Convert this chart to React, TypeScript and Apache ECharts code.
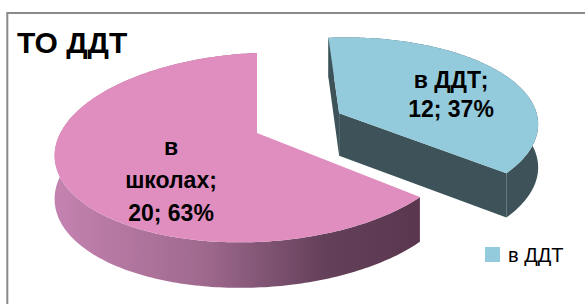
import React, { useEffect, useRef } from 'react';
import * as echarts from 'echarts';

// ---- data ----
const categories = ['в ДДТ', 'в школах'];
const values = [12, 20];
const percents = [37, 63];
const titleText = 'ТО ДДТ';

// ---- styles ----
const TOP_COLORS = ['#93cbdc', '#e08ebf'];
const SIDE_COLORS: any[] = [
  '#3d5359',
  new echarts.graphic.LinearGradient(0, 0, 1, 0, [
    { offset: 0, color: '#c482b0' },
    { offset: 0.4, color: '#a06a8f' },
    { offset: 0.74, color: '#64405a' },
    { offset: 1, color: '#5a374f' },
  ]),
];
const EXPLODE = [0.46, 0];
const WRAP = [false, true];
const LABEL_POS = [
  [451, 94.5],
  [171, 179.5],
];
const LABEL_LH = [29, 33];

// perspective projection of the unit disc
const CX = 257;
const CY = 133;
const SX = 200;
const SY = 92.3;
const K = 0.1534;
const SHEAR = 0.04;
const proj = (X: number, Z: number) => {
  const w = 1 - K * Z;
  const x = CX + (SX * X) / w;
  return [x, CY + (SY * Z) / w - SHEAR * (x - CX)];
};
const depth = (Z: number) => 43 + 2.5 * Z;

const area = (pts: number[][]) => {
  let s = 0;
  for (let i = 0; i < pts.length; i++) {
    const a = pts[i];
    const b = pts[(i + 1) % pts.length];
    s += a[0] * b[1] - b[0] * a[1];
  }
  return s;
};

function sliceRender(i: number) {
  return () => {
    const total = percents.reduce((a, b) => a + b, 0);
    let before = 0;
    for (let j = 0; j < i; j++) before += percents[j];
    const a0 = (before / total) * 360;
    const a1 = ((before + percents[i]) / total) * 360;
    const mid = (((a0 + a1) / 2) * Math.PI) / 180;
    const e = EXPLODE[i];
    const ox = e * Math.sin(mid);
    const oz = -e * Math.cos(mid);
    const top: number[][] = [];
    const bot: number[][] = [];
    const steps = Math.max(2, Math.ceil(a1 - a0));
    for (let s = 0; s <= steps; s++) {
      const t = ((a0 + ((a1 - a0) * s) / steps) * Math.PI) / 180;
      const X = Math.sin(t) + ox;
      const Z = -Math.cos(t) + oz;
      const p = proj(X, Z);
      top.push(p);
      bot.push([p[0], p[1] + depth(Z)]);
    }
    const apexT = proj(ox, oz);
    const apexB = [apexT[0], apexT[1] + depth(oz)];
    const children: any[] = [];
    const wallStart = [top[0], apexT, apexB, bot[0]];
    const wallEnd = [top[top.length - 1], apexT, apexB, bot[bot.length - 1]];
    const sideFill = SIDE_COLORS[i];
    if (area(wallStart) > 1) {
      children.push({ type: 'polygon', shape: { points: wallStart }, style: { fill: sideFill } });
    }
    if (area(wallEnd) < -1) {
      children.push({ type: 'polygon', shape: { points: wallEnd }, style: { fill: sideFill } });
    }
    const band = top.concat(bot.slice().reverse());
    children.push({ type: 'polygon', shape: { points: band }, style: { fill: sideFill } });
    children.push({
      type: 'polygon',
      shape: { points: [apexT].concat(top) },
      style: { fill: TOP_COLORS[i] },
    });
    const name = WRAP[i] ? categories[i].split(' ').join('\n') : categories[i];
    children.push({
      type: 'text',
      x: LABEL_POS[i][0],
      y: LABEL_POS[i][1],
      style: {
        text: `${name};\n${values[i]}; ${percents[i]}%`,
        fontSize: 23,
        fontWeight: 'bold',
        fontFamily: 'Liberation Sans, Arial, sans-serif',
        fill: '#000',
        align: 'center',
        verticalAlign: 'middle',
        lineHeight: LABEL_LH[i],
      },
    });
    return { type: 'group', children };
  };
}

export default function App() {
  const ref = useRef<HTMLDivElement>(null);
  useEffect(() => {
    document.body.style.margin = '0';
    if (!ref.current) return;
    const chart = echarts.init(ref.current, null, { renderer: 'svg' });
    chart.setOption({
      animation: false,
      title: {
        text: titleText,
        left: 17,
        top: 27,
        padding: 0,
        textStyle: {
          fontSize: 30,
          lineHeight: 30,
          fontWeight: 'bold',
          fontFamily: 'Liberation Sans, Arial, sans-serif',
          color: '#000',
        },
      },
      legend: {
        data: [categories[0]],
        left: 485,
        top: 244.5,
        padding: 0,
        orient: 'vertical',
        icon: 'rect',
        itemWidth: 15,
        itemHeight: 15,
        selectedMode: false,
        textStyle: {
          fontSize: 20,
          fontFamily: 'Liberation Sans, Arial, sans-serif',
          color: '#000',
          padding: [0, 0, 0, 3],
        },
      },
      graphic: [
        {
          type: 'rect',
          shape: { x: 7.3, y: 13, width: 700, height: 400 },
          style: { fill: 'none', stroke: '#8a8a8a', lineWidth: 2 },
          silent: true,
        },
      ],
      series: categories.map((c, i) => ({
        type: 'custom',
        name: c,
        coordinateSystem: 'none',
        silent: true,
        itemStyle: { color: TOP_COLORS[i] },
        data: [values[i]],
        renderItem: sliceRender(i),
      })),
    });
    return () => chart.dispose();
  }, []);
  return <div ref={ref} style={{ width: 585, height: 304 }} />;
}
